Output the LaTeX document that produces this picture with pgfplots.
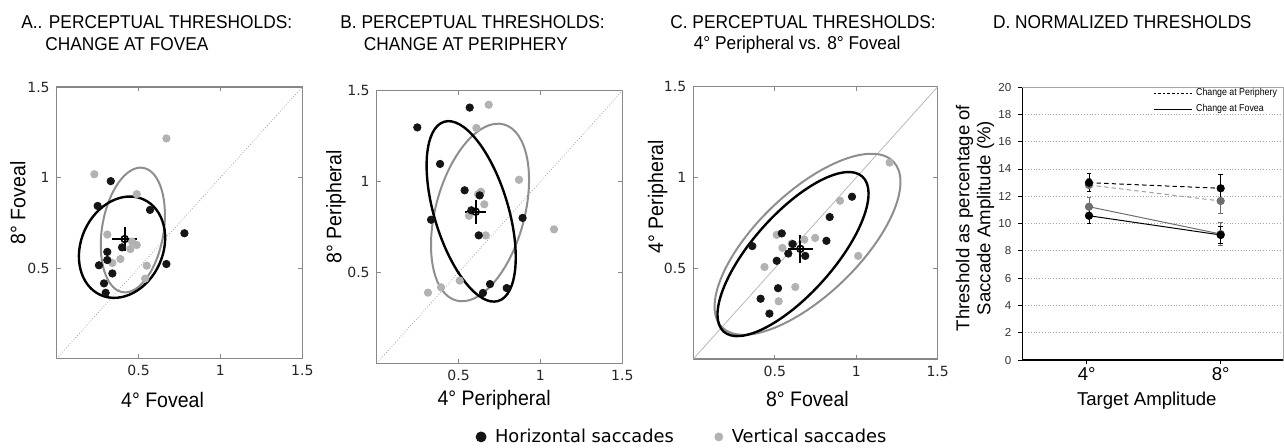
\documentclass[border=0pt]{standalone}
\usepackage{pgfplots}
\pgfplotsset{compat=1.18}
\usepackage{fontspec}
\setmainfont{Liberation Sans}
\newfontfamily\condfont[FakeStretch=0.93]{Liberation Sans}
\newfontfamily\narrowfont[FakeStretch=0.88]{Liberation Sans}
\newfontfamily\tickfont{DejaVu Sans}
\definecolor{dotblack}{HTML}{151515}
\definecolor{dotgray}{HTML}{B2B2B2}
\definecolor{ellgray}{HTML}{8E8E8E}
\definecolor{axgray}{HTML}{888888}
\definecolor{dgray}{HTML}{6E6E6E}
\pgfplotsset{
 scatbox/.style={scale only axis, anchor=south west, clip=false,
  xmin=0,xmax=1.5,ymin=0,ymax=1.5,
  xtick={0.5,1,1.5}, ytick={0.5,1,1.5},
  xticklabels={0.5,1,1.5}, yticklabels={0.5,1,1.5},
  tick align=inside, major tick length=2.2pt,
  tick style={axgray, line width=0.4pt},
  axis line style={axgray, line width=0.6pt},
  ticklabel style={font=\tickfont\fontsize{7}{8}\selectfont, text=black!85},
  /pgf/number format/assume math mode=true,
  label style={font=\condfont\fontsize{10.5}{12}\selectfont},
 },
 gdots/.style={only marks, mark=*, mark size=1.85pt, mark options={draw=dotgray, fill=dotgray}, forget plot},
 bdots/.style={only marks, mark=*, mark size=1.85pt, mark options={draw=dotblack, fill=dotblack}, forget plot},
 meanmk/.style={black, mark=o, mark size=1.7pt, line width=0.8pt, forget plot,
   error bars/.cd, x dir=both, x explicit, y dir=both, y explicit, error mark=none,
   error bar style={line width=1pt}},
}
\begin{document}
\begin{tikzpicture}
% ---------- titles ----------
\node[anchor=base west, inner sep=0] at (10.5pt,209.35pt) {\condfont\fontsize{9.3}{11}\selectfont A.. PERCEPTUAL THRESHOLDS:};
\node[anchor=base west, inner sep=0] at (22.5pt,198.5pt) {\condfont\fontsize{9.3}{11}\selectfont CHANGE AT FOVEA};
\node[anchor=base west, inner sep=0] at (170pt,209.35pt) {\condfont\fontsize{9.3}{11}\selectfont B. PERCEPTUAL THRESHOLDS:};
\node[anchor=base west, inner sep=0] at (181.7pt,198.5pt) {\condfont\fontsize{9.3}{11}\selectfont CHANGE AT PERIPHERY};
\node[anchor=base west, inner sep=0] at (335pt,209.35pt) {\condfont\fontsize{9.3}{11}\selectfont C. PERCEPTUAL THRESHOLDS:};
\node[anchor=base west, inner sep=0] at (346.7pt,198.8pt) {\condfont\fontsize{9.3}{11}\selectfont 4° Peripheral vs. 8° Foveal};
\node[anchor=base west, inner sep=0] at (496.3pt,209.35pt) {\condfont\fontsize{9.3}{11}\selectfont D. NORMALIZED THRESHOLDS};

% ---------- Panel A ----------
\begin{axis}[scatbox, at={(28.35pt,44.25pt)}, width=122.8pt, height=135.75pt,
  xlabel={4° Foveal}, ylabel={8° Foveal},
  xlabel style={at={(axis description cs:0.431,-0.179)}, anchor=base},
  ylabel style={at={(axis description cs:-0.158,0.573)}, anchor=center}]
\addplot[axgray!80, densely dotted, line width=0.4pt, forget plot] coordinates {(0,0) (1.5,1.5)};
\draw[ellgray, line width=1pt, rotate around={80.6:(axis cs:0.465,0.710)}] (axis cs:0.465,0.710) ellipse [x radius=31.5pt, y radius=15.4pt];
\draw[black, line width=1.2pt, rotate around={65.8:(axis cs:0.399,0.615)}] (axis cs:0.399,0.615) ellipse [x radius=26.2pt, y radius=20.5pt];
\addplot[gdots] coordinates {(0.670,1.216) (0.230,1.018) (0.489,0.908) (0.309,0.685) (0.450,0.605) (0.489,0.627) (0.389,0.550) (0.340,0.528) (0.550,0.513) (0.540,0.441) (0.460,0.646)};
\addplot[bdots] coordinates {(0.330,0.980) (0.250,0.843) (0.570,0.821) (0.780,0.692) (0.399,0.614) (0.309,0.589) (0.309,0.544) (0.258,0.515) (0.340,0.470) (0.289,0.415) (0.299,0.363) (0.670,0.522)};
\addplot[meanmk] coordinates {(0.415,0.660) +- (0.075,0.064)};
\end{axis}

% ---------- Panel B ----------
\begin{axis}[scatbox, at={(188.35pt,41.85pt)}, width=122.8pt, height=136.3pt,
  xlabel={4° Peripheral}, ylabel={8° Peripheral},
  xlabel style={at={(axis description cs:0.478,-0.153)}, anchor=base},
  ylabel style={at={(axis description cs:-0.166,0.574)}, anchor=center},
  legend style={at={(axis description cs:0.403,-0.270)}, anchor=west, draw=none, fill=none,
    inner sep=0pt, legend columns=2, font=\tickfont\fontsize{8.9}{10}\selectfont,
    nodes={inner sep=1.5pt},
    /tikz/every odd column/.append style={column sep=3pt},
    /tikz/every even column/.append style={column sep=19pt}},
  legend cell align=left,
  legend image code/.code={\draw[#1] plot coordinates {(0pt,0pt)};}]
\addlegendimage{only marks, mark=*, mark size=2.5pt, mark options={draw=dotblack, fill=dotblack}}
\addlegendentry{Horizontal saccades}
\addlegendimage{only marks, mark=*, mark size=2pt, mark options={draw=dotgray, fill=dotgray}}
\addlegendentry{Vertical saccades}
\addplot[axgray!80, densely dotted, line width=0.4pt, forget plot] coordinates {(0,0) (1.5,1.5)};
\draw[ellgray, line width=1pt, rotate around={74.9:(axis cs:0.631,0.830)}] (axis cs:0.631,0.830) ellipse [x radius=45.6pt, y radius=22.2pt];
\draw[black, line width=1.2pt, rotate around={106.8:(axis cs:0.577,0.836)}] (axis cs:0.577,0.836) ellipse [x radius=46.8pt, y radius=18.5pt];
\addplot[gdots] coordinates {(0.684,1.423) (0.609,1.295) (0.869,1.010) (0.637,0.944) (0.619,0.930) (0.657,0.875) (0.564,0.812) (0.666,0.704) (1.083,0.737) (0.507,0.455) (0.393,0.418) (0.313,0.389)};
\addplot[bdots] coordinates {(0.568,1.407) (0.248,1.298) (0.387,1.097) (0.537,0.952) (0.629,0.924) (0.578,0.842) (0.332,0.790) (0.891,0.800) (0.623,0.704) (0.692,0.436) (0.649,0.387) (0.794,0.414)};
\addplot[meanmk] coordinates {(0.605,0.834) +- (0.064,0.066)};
\end{axis}

% ---------- Panel C ----------
\begin{axis}[scatbox, at={(346.65pt,44pt)}, width=122.2pt, height=136.15pt,
  xlabel={8° Foveal}, ylabel={4° Peripheral},
  xlabel style={at={(axis description cs:0.467,-0.175)}, anchor=base},
  ylabel style={at={(axis description cs:-0.146,0.596)}, anchor=center}]
\addplot[axgray!60, line width=0.4pt, forget plot] coordinates {(0,0) (1.5,1.5)};
\draw[ellgray, line width=1pt, rotate around={43.9:(axis cs:0.701,0.632)}] (axis cs:0.701,0.632) ellipse [x radius=59.6pt, y radius=25.6pt];
\draw[black, line width=1.2pt, rotate around={48.2:(axis cs:0.612,0.578)}] (axis cs:0.612,0.578) ellipse [x radius=52pt, y radius=20.1pt];
\addplot[gdots] coordinates {(1.205,1.082) (0.900,0.872) (0.512,0.684) (0.547,0.612) (0.681,0.658) (0.748,0.667) (0.604,0.636) (0.437,0.507) (1.012,0.568) (0.626,0.397) (0.524,0.318)};
\addplot[bdots] coordinates {(0.362,0.622) (0.543,0.692) (0.583,0.581) (0.512,0.541) (0.610,0.633) (0.687,0.568) (0.817,0.651) (0.837,0.782) (0.974,0.894) (0.520,0.390) (0.413,0.332) (0.467,0.250)};
\addplot[meanmk] coordinates {(0.657,0.607) +- (0.076,0.076)};
\end{axis}

% ---------- Panel D ----------
\begin{axis}[scale only axis, anchor=south west, at={(511.15pt,43.5pt)}, width=130.5pt, height=136.5pt,
  xmin=2.08, xmax=9.87, ymin=0, ymax=20,
  axis x line*=bottom, axis y line*=left,
  axis line style={black, line width=0.6pt},
  xtick={4,8}, xticklabels={4°,8°},
  ytick={0,2,...,20}, yticklabels={0,2,4,6,8,10,12,14,16,18,20},
  tick align=outside, major tick length=2pt, tick style={black, line width=0.4pt},
  ymajorgrids, grid style={densely dotted, gray!70, line width=0.4pt},
  /pgf/number format/assume math mode=true,
  xticklabel style={font=\fontsize{9.3}{11}\selectfont, yshift=2pt},
  yticklabel style={font=\fontsize{5.8}{7}\selectfont, text=black!80},
  xlabel={Target Amplitude},
  xlabel style={font=\fontsize{9.3}{11}\selectfont, at={(axis description cs:0.477,-0.165)}, anchor=base},
  ylabel={Threshold as percentage of\\Saccade Amplitude (\%)},
  ylabel style={font=\fontsize{9.3}{10.5}\selectfont, align=center, at={(axis description cs:-0.181,0.52)}, anchor=center},
  legend style={at={(axis description cs:1.0,1.025)}, anchor=north east, xshift=2pt, draw=none, fill=none,
    font=\narrowfont\fontsize{5}{6}\selectfont, row sep=-1.5pt},
  legend cell align=left,
  legend image code/.code={\draw[#1] (0pt,0pt) -- (19pt,0pt);},
  clip=false]
\addlegendimage{black, dash pattern=on 1.3pt off 1pt, line width=0.6pt}
\addlegendentry{Change at Periphery}
\addlegendimage{black, line width=0.4pt}
\addlegendentry{Change at Fovea}
\draw[gray!70, line width=0.4pt] (rel axis cs:0,1) -- (rel axis cs:1,1) -- (rel axis cs:1,0);
\addplot[gray!75, dash pattern=on 2.2pt off 1.6pt, line width=0.5pt, mark=*, mark size=1.8pt,
  mark options={solid, draw=dgray, fill=dgray}, forget plot,
  error bars/.cd, y dir=both, y explicit, error bar style={line width=0.4pt, solid, dgray},
  error mark options={rotate=90, mark size=1.2pt, line width=0.4pt, solid, dgray}]
  coordinates {(4.07,12.82) +- (0,0.45) (8.0,11.65) +- (0,0.91)};
\addplot[dgray, line width=0.5pt, mark=*, mark size=1.8pt,
  mark options={solid, fill=dgray}, forget plot,
  error bars/.cd, y dir=both, y explicit, error bar style={line width=0.4pt},
  error mark options={rotate=90, mark size=1.2pt, line width=0.4pt}]
  coordinates {(4.07,11.23) +- (0,0.69) (8.0,9.23) +- (0,0.85)};
\addplot[black, dash pattern=on 2.2pt off 1.6pt, line width=0.5pt, mark=*, mark size=1.8pt,
  mark options={solid, fill=black}, forget plot,
  error bars/.cd, y dir=both, y explicit, error bar style={line width=0.4pt, solid},
  error mark options={rotate=90, mark size=1.2pt, line width=0.4pt, solid}]
  coordinates {(4.07,12.99) +- (0,0.65) (8.0,12.58) +- (0,1.0)};
\addplot[black, line width=0.5pt, mark=*, mark size=1.8pt,
  mark options={solid, fill=black}, forget plot,
  error bars/.cd, y dir=both, y explicit, error bar style={line width=0.4pt},
  error mark options={rotate=90, mark size=1.2pt, line width=0.4pt}]
  coordinates {(4.07,10.57) +- (0,0.56) (8.0,9.16) +- (0,0.6)};
\end{axis}
\pgfresetboundingbox
\useasboundingbox (0pt,0pt) rectangle (642pt,223.5pt);
\end{tikzpicture}
\end{document}
